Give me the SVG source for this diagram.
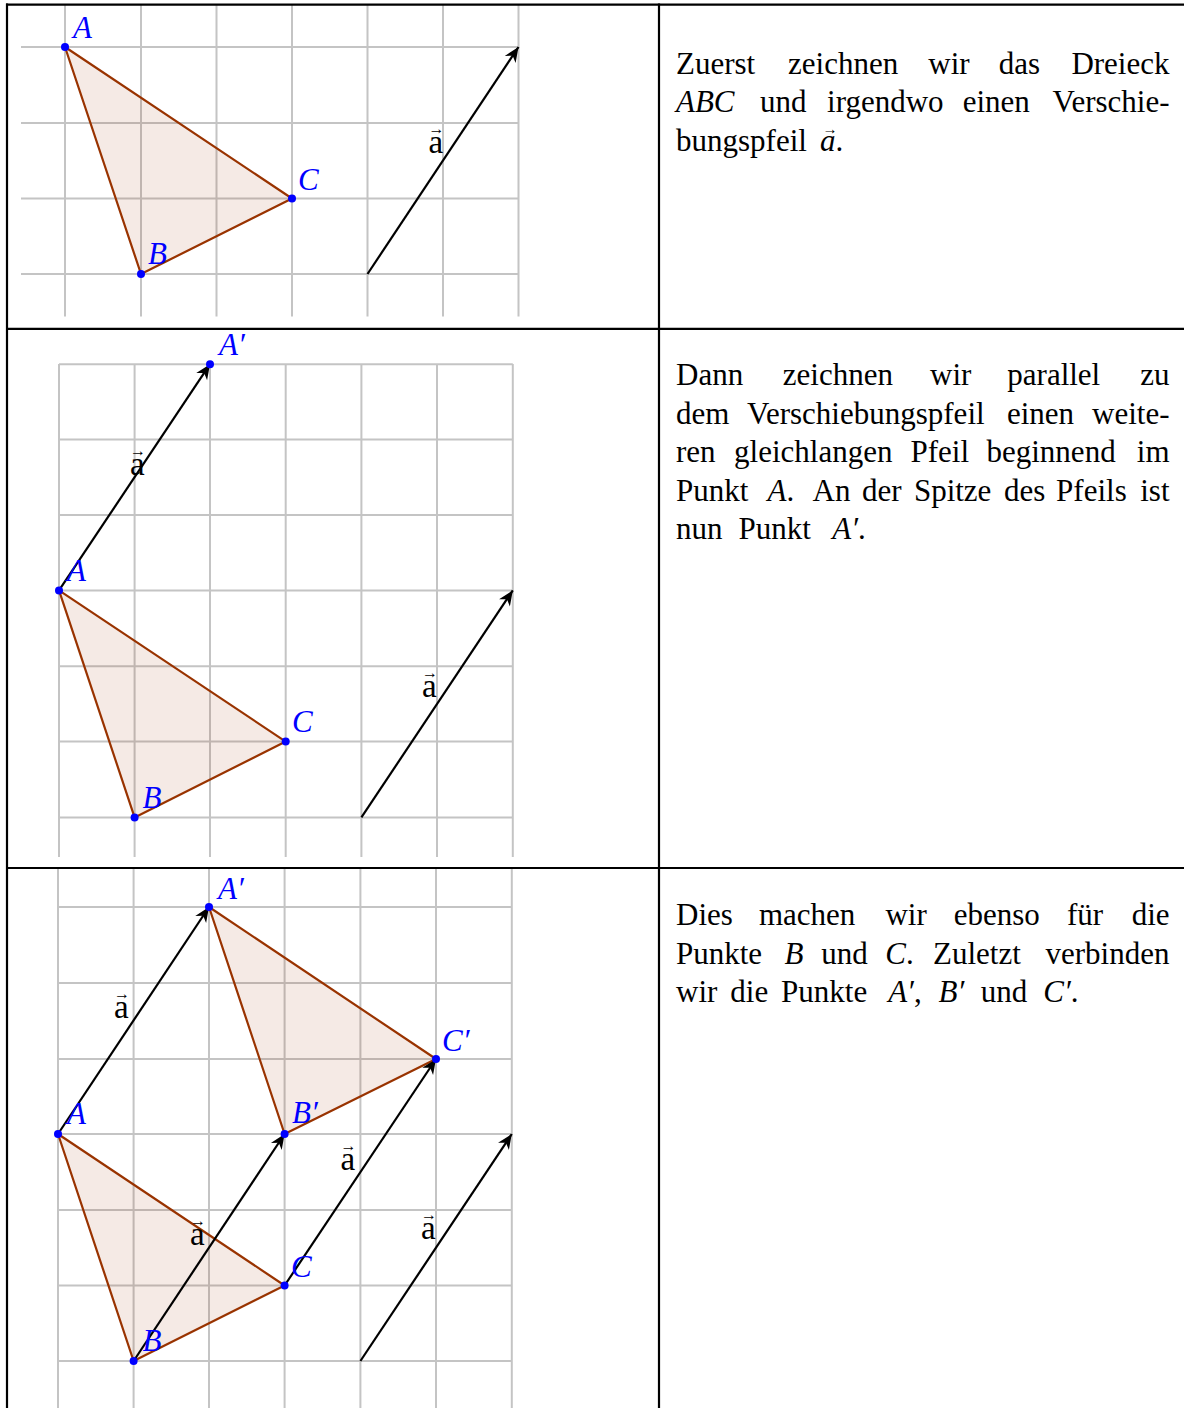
<svg xmlns="http://www.w3.org/2000/svg" width="1184" height="1408" viewBox="0 0 1184 1408">
<style>
.grid line{stroke:#c4c4c4;stroke-width:2}
.tri{fill:#993300;fill-opacity:0.1;stroke:#993300;stroke-width:2.2;stroke-linejoin:round}
.vec{stroke:#000;stroke-width:2.2;fill:none;marker-end:url(#ah)}
.pt{fill:#0000ff}
.lbl{font-family:'Liberation Serif',serif;font-style:italic;font-size:31px;fill:#0000ff}
.va{font-family:'Liberation Serif',serif;font-size:33px;fill:#000}
.varr{font-family:'Liberation Serif',serif;font-size:16px;fill:#000;text-anchor:middle}
.txt{font-family:'Liberation Serif',serif;font-size:31px;fill:#000}
.it{font-style:italic}
.end{text-anchor:end}
.border line{stroke:#000;stroke-width:2.2}
</style>
<defs>
<marker id="ah" markerUnits="userSpaceOnUse" viewBox="-16 -8 18 16" refX="0" refY="0" markerWidth="18" markerHeight="16" orient="auto">
<path d="M0,0 L-15,-6.5 L-10.5,0 L-15,6.5 Z" fill="#000"/>
</marker>
</defs>
<rect width="1184" height="1408" fill="#fff"/>

<!-- Panel 1 -->
<g id="panel1">
<g class="grid">
<line x1="65" y1="5" x2="65" y2="316.5"/><line x1="141" y1="5" x2="141" y2="316.5"/><line x1="216.5" y1="5" x2="216.5" y2="316.5"/><line x1="292" y1="5" x2="292" y2="316.5"/><line x1="367.5" y1="5" x2="367.5" y2="316.5"/><line x1="443" y1="5" x2="443" y2="316.5"/><line x1="518.5" y1="5" x2="518.5" y2="316.5"/>
<line x1="21" y1="47" x2="518.5" y2="47"/><line x1="21" y1="123" x2="518.5" y2="123"/><line x1="21" y1="198.5" x2="518.5" y2="198.5"/><line x1="21" y1="274" x2="518.5" y2="274"/>
</g>
<polygon id="p1-tri" class="tri" points="65,47 141,274 292,198.5"/>
<g id="p1-connectors"><line class="vec" x1="367.5" y1="274" x2="518.5" y2="47"/></g>
<g id="p1-A"><circle class="pt" cx="65" cy="47" r="4"/><text class="lbl" x="73" y="38">A</text></g>
<g id="p1-B"><circle class="pt" cx="141" cy="274" r="4"/><text class="lbl" x="148" y="263.5">B</text></g>
<g id="p1-C"><circle class="pt" cx="292" cy="198.5" r="4"/><text class="lbl" x="298" y="190">C</text></g>
<g id="p1-a"><text class="va" x="428.5" y="153">a</text><text class="varr" x="436.5" y="134">→</text></g>
</g>

<!-- Panel 2 -->
<g id="panel2">
<g class="grid">
<line x1="59" y1="364" x2="59" y2="857"/><line x1="134.6" y1="364" x2="134.6" y2="857"/><line x1="210" y1="364" x2="210" y2="857"/><line x1="285.7" y1="364" x2="285.7" y2="857"/><line x1="361.4" y1="364" x2="361.4" y2="857"/><line x1="437" y1="364" x2="437" y2="857"/><line x1="512.8" y1="364" x2="512.8" y2="857"/>
<line x1="59" y1="364.2" x2="512.8" y2="364.2"/><line x1="59" y1="439.6" x2="512.8" y2="439.6"/><line x1="59" y1="515" x2="512.8" y2="515"/><line x1="59" y1="590.4" x2="512.8" y2="590.4"/><line x1="59" y1="666.2" x2="512.8" y2="666.2"/><line x1="59" y1="741.6" x2="512.8" y2="741.6"/><line x1="59" y1="817.4" x2="512.8" y2="817.4"/>
</g>
<polygon id="p2-tri" class="tri" points="59,590.4 134.6,817.4 285.7,741.6"/>
<g id="p2-connectors">
<line class="vec" x1="59" y1="590.4" x2="210" y2="364.2"/>
<line class="vec" x1="361.4" y1="817.4" x2="512.8" y2="590.4"/>
</g>
<g id="p2-A1"><circle class="pt" cx="210" cy="364.2" r="4"/><text class="lbl" x="219" y="355">A′</text></g>
<g id="p2-A"><circle class="pt" cx="59" cy="590.4" r="4"/><text class="lbl" x="67" y="581">A</text></g>
<g id="p2-B"><circle class="pt" cx="134.6" cy="817.4" r="4"/><text class="lbl" x="142.5" y="808">B</text></g>
<g id="p2-C"><circle class="pt" cx="285.7" cy="741.6" r="4"/><text class="lbl" x="292" y="732">C</text></g>
<g id="p2-a1"><text class="va" x="130" y="474.5">a</text><text class="varr" x="138" y="455.5">→</text></g>
<g id="p2-a2"><text class="va" x="422" y="697">a</text><text class="varr" x="430" y="678">→</text></g>
</g>

<!-- Panel 3 -->
<g id="panel3">
<g class="grid">
<line x1="58" y1="869" x2="58" y2="1408"/><line x1="133.6" y1="869" x2="133.6" y2="1408"/><line x1="209" y1="869" x2="209" y2="1408"/><line x1="284.6" y1="869" x2="284.6" y2="1408"/><line x1="360.4" y1="869" x2="360.4" y2="1408"/><line x1="436" y1="869" x2="436" y2="1408"/><line x1="511.8" y1="869" x2="511.8" y2="1408"/>
<line x1="58" y1="907" x2="511.8" y2="907"/><line x1="58" y1="983" x2="511.8" y2="983"/><line x1="58" y1="1059" x2="511.8" y2="1059"/><line x1="58" y1="1134" x2="511.8" y2="1134"/><line x1="58" y1="1210" x2="511.8" y2="1210"/><line x1="58" y1="1285.5" x2="511.8" y2="1285.5"/><line x1="58" y1="1361" x2="511.8" y2="1361"/>
</g>
<polygon id="p3-tri" class="tri" points="58,1134 133.6,1361 284.6,1285.5"/>
<polygon id="p3-tri2" class="tri" points="209,907 284.6,1134 436,1059"/>
<g id="p3-connectors">
<line class="vec" x1="58" y1="1134" x2="209" y2="907"/>
<line class="vec" x1="133.6" y1="1361" x2="284.6" y2="1134"/>
<line class="vec" x1="284.6" y1="1285.5" x2="436" y2="1059"/>
<line class="vec" x1="360.4" y1="1361" x2="511.8" y2="1134"/>
</g>
<g id="p3-A1"><circle class="pt" cx="209" cy="907" r="4"/><text class="lbl" x="218" y="898.5">A′</text></g>
<g id="p3-C1"><circle class="pt" cx="436" cy="1059" r="4"/><text class="lbl" x="442" y="1050.5">C′</text></g>
<g id="p3-B1"><circle class="pt" cx="284.6" cy="1134" r="4"/><text class="lbl" x="292" y="1123">B′</text></g>
<g id="p3-A"><circle class="pt" cx="58" cy="1134" r="4"/><text class="lbl" x="67" y="1124">A</text></g>
<g id="p3-C"><circle class="pt" cx="284.6" cy="1285.5" r="4"/><text class="lbl" x="291" y="1276.5">C</text></g>
<g id="p3-B"><circle class="pt" cx="133.6" cy="1361" r="4"/><text class="lbl" x="142.5" y="1351">B</text></g>
<g id="p3-a1"><text class="va" x="114" y="1017.5">a</text><text class="varr" x="122" y="998.5">→</text></g>
<g id="p3-a2"><text class="va" x="340.5" y="1169.5">a</text><text class="varr" x="348.5" y="1150.5">→</text></g>
<g id="p3-a3"><text class="va" x="190" y="1244.5">a</text><text class="varr" x="198" y="1225.5">→</text></g>
<g id="p3-a4"><text class="va" x="421" y="1239">a</text><text class="varr" x="429" y="1220">→</text></g>
</g>

<!-- Texts -->
<g id="text1" class="txt">
<text y="73.5"><tspan x="676">Zuerst</tspan><tspan x="788.1">zeichnen</tspan><tspan x="928.3">wir</tspan><tspan x="998.7">das</tspan></text>
<text y="73.5" class="end" x="1169.5">Dreieck</text>
<text y="112"><tspan x="676" class="it">ABC</tspan><tspan x="759.9">und</tspan><tspan x="827.1">irgendwo</tspan><tspan x="962.7">einen</tspan></text>
<text y="112" class="end" x="1169.5">Verschie-</text>
<text y="150.5"><tspan x="676">bungspfeil</tspan><tspan x="820" class="it">a</tspan><tspan>.</tspan></text>
<text class="varr" style="font-size:15px" x="830" y="133.5">→</text>
</g>

<g id="text2" class="txt">
<text y="385"><tspan x="676">Dann</tspan><tspan x="782.8">zeichnen</tspan><tspan x="930">wir</tspan><tspan x="1007.3">parallel</tspan></text>
<text y="385" class="end" x="1169.5">zu</text>
<text y="423.5"><tspan x="676">dem</tspan><tspan x="747">Verschiebungspfeil</tspan><tspan x="1006.9">einen</tspan></text>
<text y="423.5" class="end" x="1169.5">weite-</text>
<text y="462"><tspan x="676">ren</tspan><tspan x="734.1">gleichlangen</tspan><tspan x="910.5">Pfeil</tspan><tspan x="986.5">beginnend</tspan></text>
<text y="462" class="end" x="1169.5">im</text>
<text y="500.5"><tspan x="676">Punkt</tspan><tspan x="767.5" class="it">A</tspan><tspan>.</tspan><tspan x="812.5">An</tspan><tspan x="861.9">der</tspan><tspan x="913.9">Spitze</tspan><tspan x="1004.1">des</tspan><tspan x="1056.1">Pfeils</tspan></text>
<text y="500.5" class="end" x="1169.5">ist</text>
<text y="539"><tspan x="676">nun</tspan><tspan x="738.5">Punkt</tspan><tspan x="832.3" class="it">A′</tspan><tspan>.</tspan></text>
</g>

<g id="text3" class="txt">
<text y="925"><tspan x="676">Dies</tspan><tspan x="758.9">machen</tspan><tspan x="885.4">wir</tspan><tspan x="953.7">ebenso</tspan><tspan x="1067">für</tspan></text>
<text y="925" class="end" x="1169.5">die</text>
<text y="964"><tspan x="676">Punkte</tspan><tspan x="784.5" class="it">B</tspan><tspan x="821.3">und</tspan><tspan x="885.2" class="it">C</tspan><tspan>.</tspan><tspan x="933">Zuletzt</tspan></text>
<text y="964" class="end" x="1169.5">verbinden</text>
<text y="1002"><tspan x="676">wir</tspan><tspan x="730.3">die</tspan><tspan x="781.1">Punkte</tspan><tspan x="888.2" class="it">A′</tspan><tspan>,</tspan><tspan x="938.5" class="it">B′</tspan><tspan x="980.8">und</tspan><tspan x="1043.3" class="it">C′</tspan><tspan>.</tspan></text>
</g>

<!-- Table borders -->
<g id="table" class="border">
<line x1="7" y1="3.5" x2="7" y2="1408"/>
<line x1="659" y1="3.5" x2="659" y2="1408"/>
<line x1="6" y1="4.6" x2="1184" y2="4.6"/>
<line x1="6" y1="328.8" x2="1184" y2="328.8"/>
<line x1="6" y1="868" x2="1184" y2="868"/>
</g>
</svg>
